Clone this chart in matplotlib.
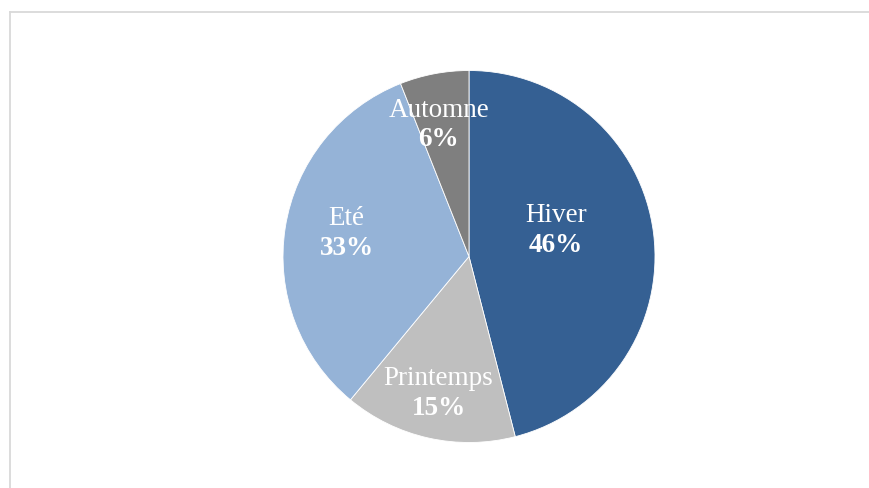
import matplotlib
matplotlib.use("Agg")
import matplotlib.pyplot as plt
import numpy as np
from matplotlib.lines import Line2D

# Chart data
seasons = ["Hiver", "Printemps", "Eté", "Automne"]
shares = [46, 15, 33, 6]
colors = ["#356093", "#BFBFBF", "#95B3D7", "#7F7F7F"]

# Label placement (fraction of radius, angle shift in degrees)
label_radius = [0.49, 0.75, 0.67, 0.73]
label_shift = [10, 0, -2, 2]

W, H = 870, 489
CX, CY, R = 469, 257.5, 186

fig = plt.figure(figsize=(W / 100, H / 100), dpi=100)
fig.patch.set_facecolor("white")

# Light grey frame (top and left edges visible)
frame = "#D9D9D9"
fig.add_artist(Line2D([10 / W, 1], [1 - 12.5 / H] * 2, color=frame, lw=1.3,
                      transform=fig.transFigure))
fig.add_artist(Line2D([10.5 / W] * 2, [0, 1 - 12.5 / H], color=frame, lw=1.3,
                      transform=fig.transFigure))

ax = fig.add_axes([(CX - R) / W, (H - CY - R) / H, 2 * R / W, 2 * R / H])
wedges, _ = ax.pie(shares, colors=colors, startangle=90, counterclock=False,
                   radius=1, wedgeprops=dict(edgecolor="white", linewidth=0.6))
ax.set_xlim(-1, 1)
ax.set_ylim(-1, 1)
ax.set_aspect("equal")
ax.axis("off")

font = "Liberation Serif"
for w, name, val, rr, sh in zip(wedges, seasons, shares, label_radius, label_shift):
    ang = np.deg2rad((w.theta1 + w.theta2) / 2 + sh)
    x, y = rr * np.cos(ang), rr * np.sin(ang)
    ax.text(x, y + 0.08, name, ha="center", va="center", color="white",
            fontsize=19.5, family=font)
    ax.text(x, y - 0.08, f"{val}%", ha="center", va="center", color="white",
            fontsize=19.5, family=font, fontweight="bold")

fig.savefig("out.png", dpi=100)
